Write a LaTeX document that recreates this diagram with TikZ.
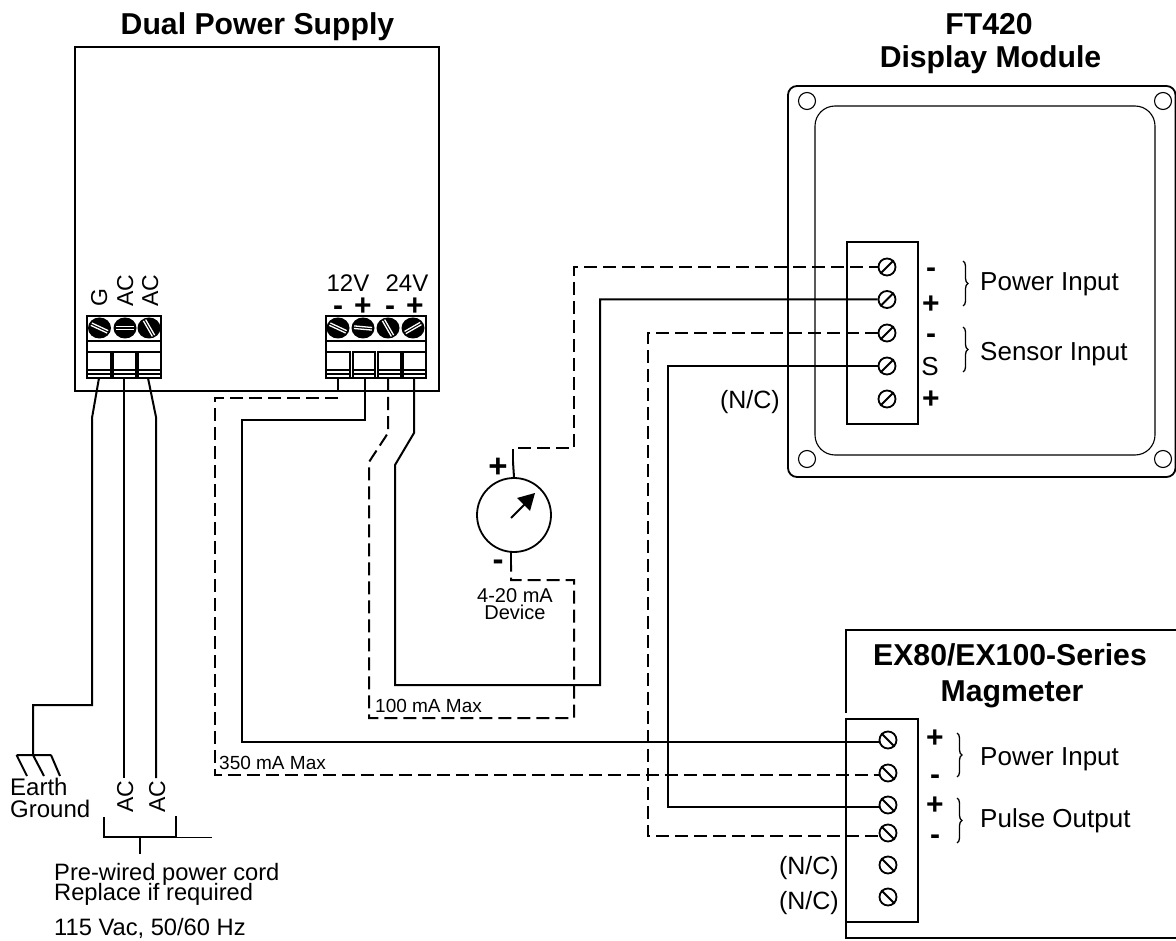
\documentclass[tikz,border=0pt]{standalone}
\usepackage{fontspec}
\setmainfont{Liberation Sans}
\usetikzlibrary{decorations.pathreplacing}
\tikzset{
  wire/.style={line width=2pt,line join=miter},
  dwire/.style={wire,dash pattern=on 13pt off 6pt},
  frame/.style={line width=1.8pt},
  lab/.style={font=\fontsize{26}{26}\selectfont,inner sep=0pt,anchor=base west},
  midlab/.style={font=\fontsize{24}{24}\selectfont,inner sep=0pt,anchor=base west},
  smalltxt/.style={font=\fontsize{20}{20}\selectfont,inner sep=0pt,anchor=base},
  smallw/.style={font=\fontsize{19}{19}\selectfont,inner sep=0pt,anchor=base west},
  vlab/.style={font=\fontsize{23}{23}\selectfont,inner sep=0pt,rotate=90,anchor=base west},
  ttl/.style={font=\bfseries\fontsize{30.2}{30}\selectfont,inner sep=0pt,anchor=base},
  signtxt/.style={font=\bfseries\fontsize{30}{30}\selectfont,inner sep=0pt,anchor=center},
  screwnode/.style={circle,draw,line width=1.8pt,fill=white,minimum size=17pt,inner sep=0pt},
  bracedeco/.style={decorate,decoration={brace,amplitude=5pt,raise=0pt},line width=1.3pt},
}
\newcommand{\slashscrew}[2]{\draw[line width=1.8pt] (#1.#2) -- (#1.#2+180);}
\newcommand{\bigscrew}[2]{%
  \fill[black] (#1,328) ellipse (11.5pt and 10.5pt);
  \draw[white,line width=1.3pt,rotate around={#2:(#1,328)}] (#1-9,328-1.3) -- (#1+9,328-1.3) (#1-9,328+1.3) -- (#1+9,328+1.3);
}
\begin{document}
\begin{tikzpicture}[x=1pt,y=-1pt]
\useasboundingbox (0,0) rectangle (1176,941);
% ---- power supply
\node[ttl] (psutitle) at (257.5,35) {Dual Power Supply};
\draw[frame] (75,47) rectangle (439,391);
\node[vlab] (lg) at (107,307) {G};
\node[vlab] (la) at (133,307) {AC};
\node[vlab] (lb) at (158,307) {AC};
\node[midlab,anchor=base] (v12) at (348,292) {12V};
\node[midlab,anchor=base] (v24) at (407,292) {24V};
\node[signtxt] (s1) at (338,311) {-};
\node[signtxt] (s2) at (363,307) {+};
\node[signtxt] (s3) at (390,311) {-};
\node[signtxt] (s4) at (415,307) {+};
% terminal blocks
\draw[frame] (87,316) rectangle (161,378) (87,341) -- (161,341);
\draw[frame] (326,316) rectangle (426,378) (326,341) -- (426,341);
\foreach \aa/\bb in {87/111,113/136,138/161,326/350,353/375,378/401,403/426}{
  \draw[frame] (\aa,352) rectangle (\bb,378);
  \draw[line width=1.2pt] (\aa,370) -- (\bb,370) (\aa,374) -- (\bb,374);
}
\bigscrew{99.5}{-25}
\bigscrew{125}{0}
\bigscrew{149}{-60}
\bigscrew{338}{-25}
\bigscrew{363}{-5}
\bigscrew{388}{-60}
\bigscrew{413}{30}
\coordinate (tg) at (99,378);
\coordinate (ta) at (124,378);
\coordinate (tb) at (148,378);
\coordinate (tm) at (338,378);
\coordinate (tp) at (365,378);
\coordinate (um) at (388,378);
\coordinate (up) at (414,378);
% ---- display module
\node[ttl] (t1) at (989,35) {FT420};
\node[ttl] (t2) at (990.5,68) {Display Module};
\draw[frame,rounded corners=9pt] (788,86) rectangle (1175.5,477);
\draw[line width=1.1pt,rounded corners=20pt] (815,106) rectangle (1155,455);
\foreach \xx/\yy in {807/101,1163/101,807/459,1163/459}{\draw[line width=1.1pt] (\xx,\yy) circle (8.5pt);}
\draw[frame] (847,242) rectangle (918,424);
\foreach \nm/\yy in {fa/267,fb/299.5,fc/333,fd/366,fe/399}{
  \node[screwnode] (\nm) at (887,\yy) {};
  \slashscrew{\nm}{45}
}
\node[signtxt] (f1) at (931,273) {-};
\node[signtxt] (f2) at (931,305) {+};
\node[signtxt] (f3) at (931,339) {-};
\node[font=\fontsize{26}{26}\selectfont,inner sep=0pt] (f4) at (930,367) {S};
\node[signtxt] (f5) at (931,400) {+};
\draw[bracedeco] (963,261) -- (963,306);
\draw[bracedeco] (963,327) -- (963,372);
\node[lab] (f6) at (980,291) {Power Input};
\node[lab] (f7) at (980,361) {Sensor Input};
\node[lab,font=\fontsize{25}{25}\selectfont,anchor=base east] (f8) at (780,409) {(N/C)};
% ---- magmeter
\node[ttl] (t3) at (1010,665) {EX80/EX100-Series};
\node[ttl] (t4) at (1012,701) {Magmeter};
\draw[frame] (846,713) -- (846,630) -- (1176,630);
\draw[frame] (846,922) -- (846,938) -- (1176,938);
\draw[frame] (846,719) rectangle (918,922);
\foreach \nm/\yy in {ma/740,mb/773,mc/805,md/833,me/865,mf/897}{
  \node[screwnode] (\nm) at (888,\yy) {};
  \slashscrew{\nm}{135}
}
\node[signtxt] (m1) at (935,739) {+};
\node[signtxt] (m2) at (935,780) {-};
\node[signtxt] (m3) at (935,806) {+};
\node[signtxt] (m4) at (935,840) {-};
\draw[bracedeco] (957,733) -- (957,777);
\draw[bracedeco] (957,798) -- (957,843);
\node[lab] (m5) at (980,765) {Power Input};
\node[lab] (m6) at (980,827) {Pulse Output};
\node[lab,font=\fontsize{25}{25}\selectfont,anchor=base east] (m7) at (839,874) {(N/C)};
\node[lab,font=\fontsize{25}{25}\selectfont,anchor=base east] (m8) at (839,909) {(N/C)};
% ---- meter
\node[circle,draw,line width=1.8pt,minimum size=74pt,inner sep=0pt] (meter) at (514,515) {};
\draw[line width=1.8pt] (511,518) -- (525,504);
\fill[black] (535,493) -- (517,498) -- (530,511) -- cycle;
\node[signtxt,font=\bfseries\fontsize{33}{33}\selectfont] (d1) at (498,468) {+};
\node[signtxt,font=\bfseries\fontsize{33}{33}\selectfont] (d2) at (498,565) {-};
\node[smalltxt] (d3) at (515,602) {4-20 mA};
\node[smalltxt] (d4) at (515,619) {Device};
% ---- wiring
\draw[wire] (tg) -- (92,418) -- (92,705) -- (33,705) -- (33,755);
\draw[wire] (16.5,755) -- (51,755) (16.5,755) -- (27,776) (33,755) -- (44,776) (51,755) -- (60,776);
\coordinate (ac1) at (124,778);
\coordinate (ac2) at (156,778);
\draw[wire] (ta) -- (ac1);
\draw[wire] (tb) -- (156,417) -- (ac2);
\draw[wire] (tm) -- (338,391);
\draw[dwire] (338,398) -- (215,398) -- (mb.195 -| 215,398) -- (mb.195);
\draw[wire] (tp) -- (365,420) -- (242,420) -- (ma.190 -| 242,420) -- (ma.190);
\draw[dwire] (um) -- (388,433) -- (369,462) -- (369,718) -- (574,718) -- (574,580) -- (511,580) -- (511,565);
\draw[wire] (511,565) -- (511,552);
\draw[wire] (up) -- (414,433) -- (395,465) -- (395,685) -- (600,685) -- (600,299.5) -- (fb);
\draw[wire] (meter.north) -- (513,462);
\draw[dwire] (513,462) -- (513,448) -- (574,448) -- (574,267) -- (fa);
\draw[dwire] (fc) -- (648,333) -- (md.200 -| 648,333) -- (md.200);
\draw[wire] (fd) -- (668,366) -- (mc.195 -| 668,366) -- (mc.195);
\node[smallw] (w1) at (375,712) {100 mA Max};
\node[smallw] (w2) at (219,769) {350 mA Max};
% ---- bottom left
\node[midlab] (b1) at (10,795) {Earth};
\node[midlab] (b2) at (10,817) {Ground};
\node[vlab] (b3) at (133,813) {AC};
\node[vlab] (b4) at (165,813) {AC};
\draw[wire] (104,817) -- (104,837) -- (176,837) -- (176,816);
\draw[line width=0.9pt] (176,837) -- (212,837);
\draw[wire] (140,837) -- (140,854);
\node[midlab,font=\fontsize{23.7}{24}\selectfont] (b5) at (54,880) {Pre-wired power cord};
\node[midlab,font=\fontsize{23.7}{24}\selectfont] (b6) at (54,900) {Replace if required};
\node[midlab,font=\fontsize{23.7}{24}\selectfont] (b7) at (54,935) {115 Vac, 50/60 Hz};
\end{tikzpicture}
\end{document}
